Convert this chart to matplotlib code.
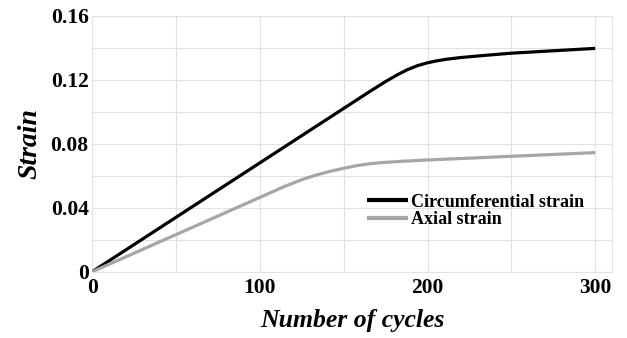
import matplotlib
matplotlib.use("Agg")
import matplotlib.pyplot as plt
from matplotlib.ticker import MultipleLocator

# Strain vs. number of loading cycles
cycles_circ = [0, 25, 50, 75, 100, 125, 150, 165, 175, 182, 188, 194, 200, 206, 212, 220,
               235, 250, 275, 300]
circumferential = [0.0, 0.017, 0.034, 0.051, 0.068, 0.085, 0.102, 0.1122, 0.1188, 0.1230,
                   0.1262, 0.1287, 0.1305, 0.1318, 0.1328, 0.1338, 0.1352, 0.1365, 0.138, 0.1395]

cycles_axial = [0, 25, 50, 75, 100, 115, 125, 133, 141, 150, 158, 165, 172, 185, 200, 250, 300]
axial = [0.0, 0.0116, 0.0232, 0.0348, 0.0464, 0.0534, 0.0575, 0.0602, 0.0625, 0.0646,
         0.0663, 0.0674, 0.0681, 0.0690, 0.0698, 0.0721, 0.0744]

x_ticks = [0, 100, 200, 300]
y_ticks = [0, 0.04, 0.08, 0.12, 0.16]
y_tick_labels = ["0", "0.04", "0.08", "0.12", "0.16"]

serif = ["Liberation Serif", "DejaVu Serif"]

fig = plt.figure(figsize=(6.27, 3.38), dpi=100)
ax = fig.add_axes([0.147, 0.196, 0.829, 0.758])

ax.plot(cycles_circ, circumferential, color="black", lw=2.3,
        label="Circumferential strain", solid_capstyle="butt", solid_joinstyle="round", zorder=3)
ax.plot(cycles_axial, axial, color="#a6a6a6", lw=2.3,
        label="Axial strain", solid_capstyle="butt", solid_joinstyle="round", zorder=3)

ax.set_xlim(0, 310)
ax.set_ylim(0, 0.16)
ax.set_xticks(x_ticks, [str(v) for v in x_ticks])
ax.set_yticks(y_ticks, y_tick_labels)
ax.xaxis.set_minor_locator(MultipleLocator(50))
ax.yaxis.set_minor_locator(MultipleLocator(0.02))
ax.grid(True, which="both", color="#e2e2e2", lw=0.8, zorder=0)
for s in ax.spines.values():
    s.set_color("#e2e2e2")
    s.set_linewidth(0.8)

ax.tick_params(which="both", length=0)
ax.tick_params(axis="x", which="major", labelsize=15.5, pad=4.5)
ax.tick_params(axis="y", which="major", labelsize=15.5, pad=2.5)
for lab in ax.get_xticklabels() + ax.get_yticklabels():
    lab.set_fontfamily(serif)
    lab.set_fontweight("bold")

ax.set_xlabel("Number of cycles", fontsize=18.5, fontstyle="italic", fontweight="bold",
              family=serif, labelpad=8)
ax.set_ylabel("Strain", fontsize=20, fontstyle="italic", fontweight="bold",
              family=serif, labelpad=6)

leg = ax.legend(loc="upper left", bbox_to_anchor=(0.528, 0.305), frameon=False,
                borderpad=0, borderaxespad=0, handlelength=2.3, handletextpad=0.17,
                labelspacing=0.02, prop={"family": serif, "weight": "bold", "size": 13})
for line in leg.get_lines():
    line.set_linewidth(3)

fig.savefig("out.png", dpi=100)
